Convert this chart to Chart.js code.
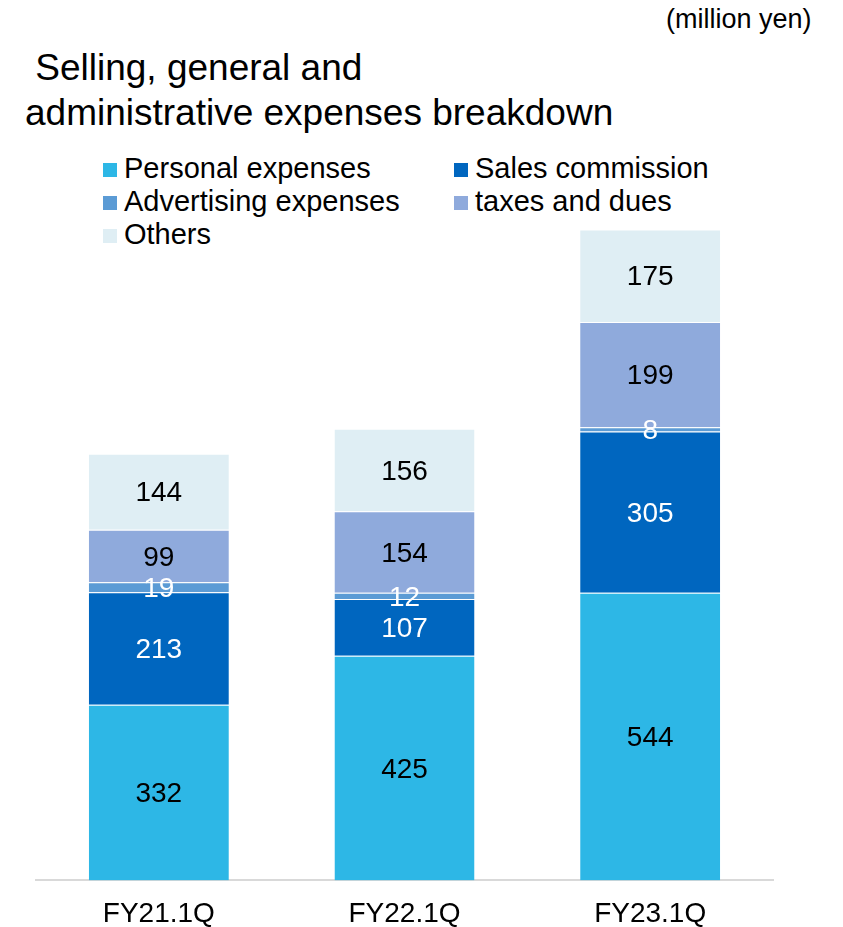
<!DOCTYPE html>
<html>
<head>
<meta charset="utf-8">
<script src="https://cdn.jsdelivr.net/npm/chart.js@4"></script>
<style>
    html, body { margin: 0; padding: 0; background: #fff; }
    body { width: 843px; height: 927px; position: relative; overflow: hidden;
           font-family: "Liberation Sans", Arial, sans-serif; color: #000; }
    #sga-chart { position: absolute; left: 0; top: 0; }
    .unit  { position: absolute; left: 666px; top: 4px; font-size: 27px; }
    .title { position: absolute; left: 25px; top: 45px; font-size: 37px; line-height: 45px; }
    .legend { position: absolute; font-size: 29px; line-height: 33px; }
    .legend div { white-space: nowrap; }
    .legend span { display: inline-block; width: 14px; height: 14px; margin-right: 7px; vertical-align: 1px; }
</style>
</head>
<body>
<div class="unit">(million yen)</div>
<div class="title">&nbsp;Selling, general and<br>administrative expenses breakdown</div>
<div class="legend" id="legend-left"  style="left:103px; top:152px;"></div>
<div class="legend" id="legend-right" style="left:454px; top:152px;"></div>
<canvas id="sga-chart" width="843" height="948"></canvas>
<script>
(function () {
    'use strict';

    // ─── Data ───────────────────────────────────────────────────
    const periods     = ['FY21.1Q', 'FY22.1Q', 'FY23.1Q'];
    const personal    = [332, 425, 544];
    const commission  = [213, 107, 305];
    const advertising = [19, 12, 8];
    const taxes       = [99, 154, 199];
    const others      = [144, 156, 175];

    const series = [
        { label: 'Personal expenses',     data: personal,    color: '#2db7e6', text: '#000' },
        { label: 'Sales commission',      data: commission,  color: '#0066bf', text: '#fff' },
        { label: 'Advertising expenses',  data: advertising, color: '#5b9bd5', text: '#fff' },
        { label: 'taxes and dues',        data: taxes,       color: '#8faadc', text: '#000' },
        { label: 'Others',                data: others,      color: '#dfeef4', text: '#000' },
    ];

    // ─── Legend (2 columns, row-major) ──────────────────────────
    const left  = document.getElementById('legend-left');
    const right = document.getElementById('legend-right');
    series.forEach(function (s, i) {
        const row = document.createElement('div');
        row.innerHTML = '<span style="background:' + s.color + '"></span>' + s.label;
        (i % 2 === 0 ? left : right).appendChild(row);
    });

    // ─── Value labels inside each segment ───────────────────────
    const segmentLabels = {
        id: 'segmentLabels',
        afterDatasetsDraw(chart) {
            const ctx = chart.ctx;
            ctx.save();
            ctx.font = '28px "Liberation Sans", Arial, sans-serif';
            ctx.textAlign = 'center';
            ctx.textBaseline = 'middle';
            chart.data.datasets.forEach(function (ds, di) {
                chart.getDatasetMeta(di).data.forEach(function (bar, i) {
                    ctx.fillStyle = series[di].text;
                    ctx.fillText(String(ds.data[i]), bar.x, (bar.y + bar.base) / 2 + 2);
                });
            });
            ctx.restore();
        },
    };

    new Chart(document.getElementById('sga-chart'), {
        type: 'bar',
        data: {
            labels: periods,
            datasets: series.map(function (s) {
                return {
                    label: s.label,
                    data: s.data,
                    backgroundColor: s.color,
                    borderColor: 'rgba(255,255,255,0.4)',
                    borderWidth: { top: 1, left: 0, right: 0, bottom: 0 },
                    borderSkipped: false,
                    barPercentage: 0.57,
                    categoryPercentage: 1,
                };
            }),
        },
        options: {
            responsive: false,
            animation: false,
            layout: { padding: { left: 36, right: 70, top: 193, bottom: 0 } },
            plugins: { legend: { display: false }, tooltip: { enabled: false } },
            scales: {
                x: {
                    stacked: true,
                    grid: { display: false, drawTicks: false },
                    border: { display: true, color: '#d9d9d9', width: 2 },
                    ticks: { color: '#000', padding: 17, font: { family: '"Liberation Sans", Arial, sans-serif', size: 28 } },
                },
                y: { stacked: true, display: false, min: 0, max: 1300 },
            },
        },
        plugins: [segmentLabels],
    });
})();
</script>
</body>
</html>
